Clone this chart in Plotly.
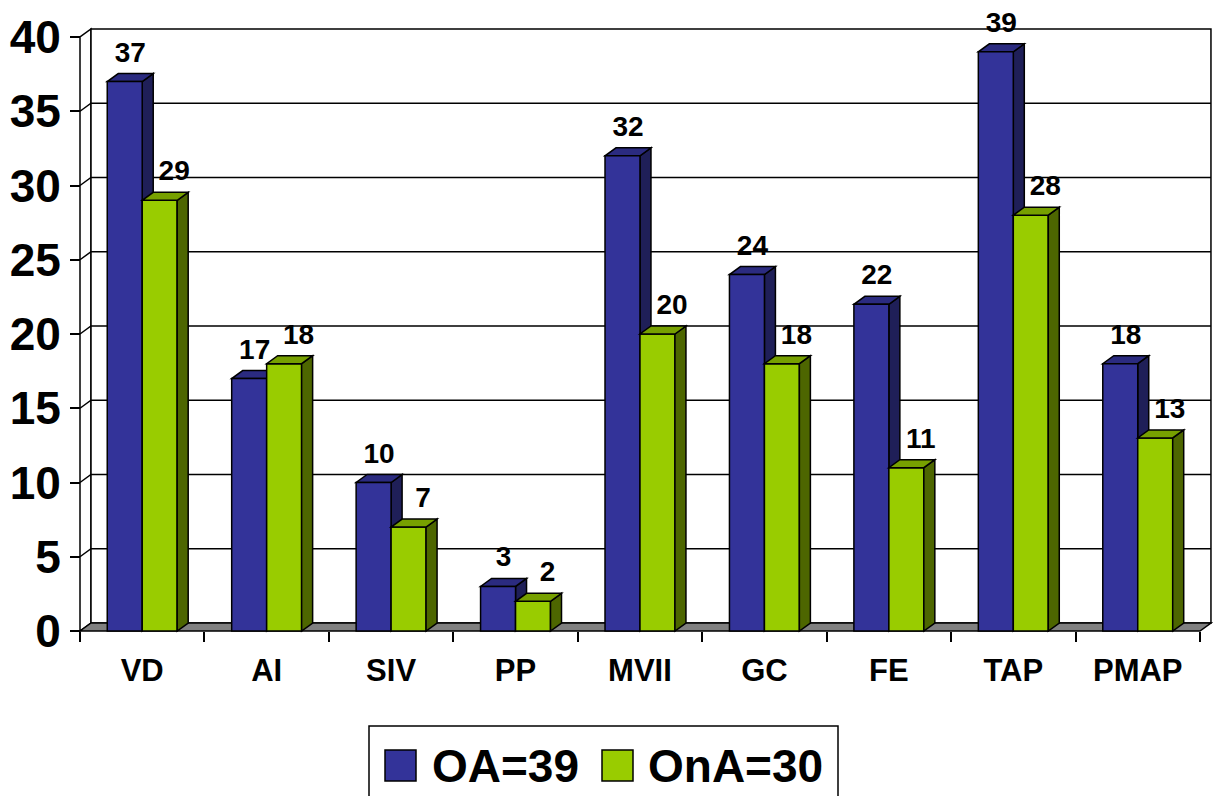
import plotly.graph_objects as go

# Categories and counts for the two groups
categories = ["VD", "AI", "SIV", "PP", "MVII", "GC", "FE", "TAP", "PMAP"]
oa_values = [37, 17, 10, 3, 32, 24, 22, 39, 18]
ona_values = [29, 18, 7, 2, 20, 18, 11, 28, 13]
series_names = ["OA=39", "OnA=30"]
y_ticks = [0, 5, 10, 15, 20, 25, 30, 35, 40]

# Figure geometry (pixels)
W, H = 1213, 796
ML, MR, MT, MB = 77, 0, 26, 162
PW, PH = W - ML - MR, H - MT - MB
CAT_PX = 124.44          # width of one category on the front plane
UNIT_PX = 14.85          # pixels per y unit
DEPTH_X, DEPTH_Y = 11, 8  # 3-D depth offset in pixels
LABEL_GAP_PX = 5          # extra lift of value labels above the top faces
GREEN_LABEL_SHIFT_PX = 9  # second-series labels sit slightly to the right

dx = DEPTH_X / CAT_PX
dy = DEPTH_Y / UNIT_PX
n = len(categories)
x_lo = -0.5 - 3 / CAT_PX
x_hi = x_lo + PW / CAT_PX
y_lo = -3 / UNIT_PX
y_hi = y_lo + PH / UNIT_PX
ymax = y_ticks[-1]
bw = 0.281  # bar width in category units

BLUE, BLUE_TOP, BLUE_SIDE = "#333399", "#2b2b80", "#1f1f58"
GREEN, GREEN_TOP, GREEN_SIDE = "#99cc00", "#77a000", "#4d6600"
FONT = "Liberation Sans, Arial, sans-serif"


def poly(pts):
    return "M " + " L ".join(f"{x},{y}" for x, y in pts) + " Z"


shapes = []
# left wall
shapes.append(dict(type="path", layer="below",
                   path=poly([(-0.5, 0), (-0.5, ymax), (-0.5 + dx, ymax + dy), (-0.5 + dx, dy)]),
                   fillcolor="white", line=dict(color="black", width=1.5)))
# back wall
shapes.append(dict(type="rect", layer="below", x0=-0.5 + dx, x1=n - 0.5 + dx, y0=dy, y1=ymax + dy,
                   fillcolor="white", line=dict(color="black", width=1.5)))
# gridlines across left wall and back wall
for k in y_ticks[1:-1]:
    shapes.append(dict(type="path", layer="below",
                       path=f"M {-0.5},{k} L {-0.5 + dx},{k + dy} L {n - 0.5 + dx},{k + dy}",
                       line=dict(color="black", width=1.5)))
# floor
shapes.append(dict(type="path", layer="below",
                   path=poly([(-0.5, 0), (n - 0.5, 0), (n - 0.5 + dx, dy), (-0.5 + dx, dy)]),
                   fillcolor="#808080", line=dict(color="black", width=1.5)))


def faces(x0, x1, v, top, side, layer):
    out = []
    out.append(dict(type="path", layer=layer,
                    path=poly([(x1, 0), (x1, v), (x1 + dx, v + dy), (x1 + dx, dy)]),
                    fillcolor=side, line=dict(color="black", width=1.5)))
    out.append(dict(type="path", layer=layer,
                    path=poly([(x0, v), (x1, v), (x1 + dx, v + dy), (x0 + dx, v + dy)]),
                    fillcolor=top, line=dict(color="black", width=1.5)))
    return out


for i, v in enumerate(oa_values):
    shapes += faces(i - bw, i, v, BLUE_TOP, BLUE_SIDE, "below")
for i, v in enumerate(ona_values):
    shapes += faces(i, i + bw, v, GREEN_TOP, GREEN_SIDE, "above")

xs = list(range(n))
fig = go.Figure()
fig.add_trace(go.Bar(x=xs, y=oa_values, width=bw, offset=-bw, name=series_names[0],
                     marker=dict(color=BLUE, line=dict(color="black", width=1.5)),
                     hoverinfo="skip", showlegend=False))
fig.add_trace(go.Bar(x=xs, y=ona_values, width=bw, offset=0, name=series_names[1],
                     marker=dict(color=GREEN, line=dict(color="black", width=1.5)),
                     hoverinfo="skip", showlegend=False))

# value labels above the top faces
lift = dy + LABEL_GAP_PX / UNIT_PX
label_font = dict(family=FONT, size=28, color="black", weight="bold")
fig.add_trace(go.Scatter(x=[i - bw / 2 + dx / 2 for i in xs], y=[v + lift for v in oa_values],
                         text=[str(v) for v in oa_values], mode="text", textposition="top center",
                         textfont=label_font, cliponaxis=False,
                         hoverinfo="skip", showlegend=False))
fig.add_trace(go.Scatter(x=[i + bw / 2 + dx / 2 + GREEN_LABEL_SHIFT_PX / CAT_PX for i in xs],
                         y=[v + lift for v in ona_values],
                         text=[str(v) for v in ona_values], mode="text", textposition="top center",
                         textfont=label_font, cliponaxis=False,
                         hoverinfo="skip", showlegend=False))


# legend drawn in paper coordinates
def px_x(p):
    return (p - ML) / PW


def px_y(p):
    return (H - MB - p) / PH


shapes.append(dict(type="rect", xref="paper", yref="paper",
                   x0=px_x(369), x1=px_x(838), y0=px_y(830), y1=px_y(726),
                   line=dict(color="black", width=1.5), fillcolor="white", layer="above"))
annotations = []
for sx, tx, col, name in [(385, 432, BLUE, series_names[0]), (602, 648, GREEN, series_names[1])]:
    shapes.append(dict(type="rect", xref="paper", yref="paper",
                       x0=px_x(sx), x1=px_x(sx + 31), y0=px_y(781), y1=px_y(750),
                       fillcolor=col, line=dict(color="black", width=1.5), layer="above"))
    annotations.append(dict(xref="paper", yref="paper", x=px_x(tx - 2), y=px_y(766),
                            xanchor="left", yanchor="middle", text=name, showarrow=False,
                            font=dict(family=FONT, size=46, color="black", weight="bold")))

fig.update_layout(
    width=W, height=H,
    margin=dict(l=ML, r=MR, t=MT, b=MB, pad=0),
    paper_bgcolor="white", plot_bgcolor="white",
    barmode="overlay",
    shapes=shapes, annotations=annotations,
    showlegend=False,
    xaxis=dict(range=[x_lo, x_hi], anchor="free", position=(0 - y_lo) / (y_hi - y_lo),
               tickmode="array", tickvals=xs, ticktext=categories, ticks="",
               ticklabelstandoff=18,
               tickfont=dict(family=FONT, size=31, color="black", weight="bold"),
               minor=dict(tickmode="array", tickvals=[i - 0.5 for i in range(n + 1)],
                          ticks="outside", ticklen=10, tickwidth=1.5, tickcolor="black"),
               showgrid=False, zeroline=False, showline=False, fixedrange=True),
    yaxis=dict(range=[y_lo, y_hi], anchor="free", position=(-0.5 - x_lo) / (x_hi - x_lo),
               tickmode="array", tickvals=y_ticks, ticktext=[str(t) for t in y_ticks],
               ticks="outside", ticklen=10, tickwidth=1.5, tickcolor="black",
               tickfont=dict(family=FONT, size=46, color="black", weight="bold"),
               showgrid=False, zeroline=False, showline=False, fixedrange=True),
)

fig.write_html("out.html")
